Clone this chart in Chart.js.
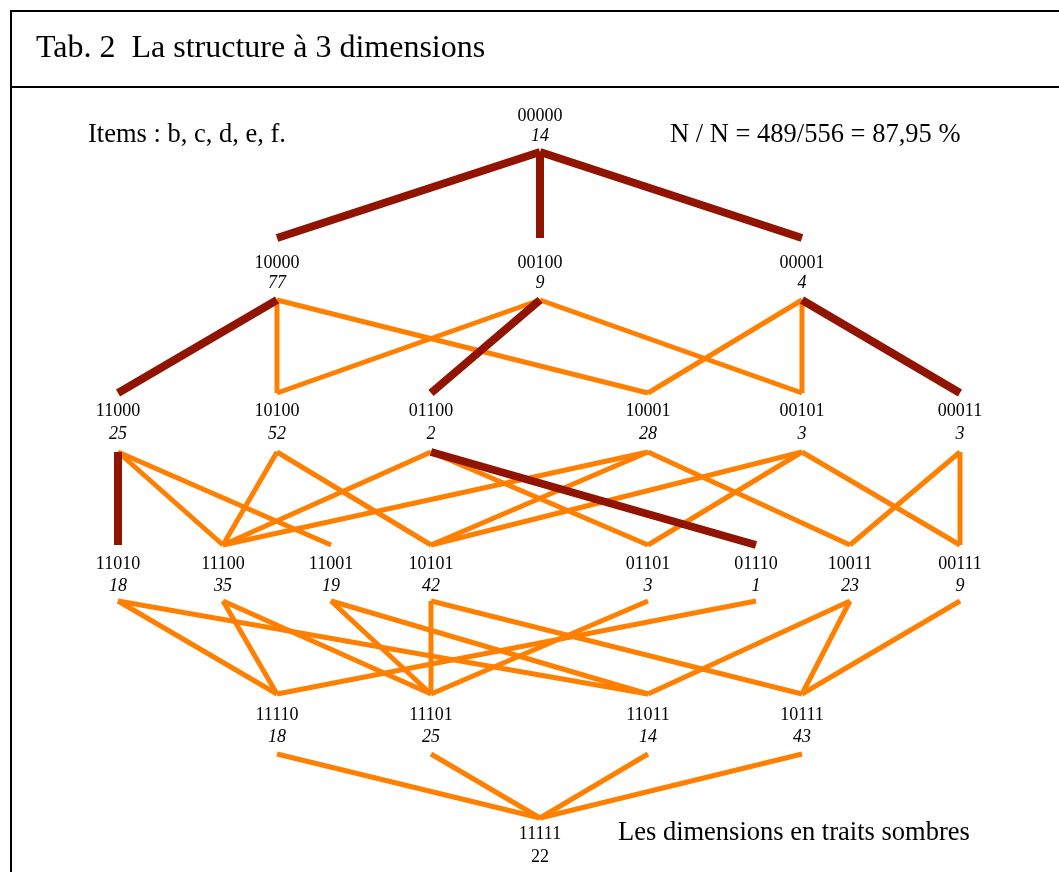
<!DOCTYPE html>
<html>
<head>
<meta charset="utf-8">
<script src="https://cdn.jsdelivr.net/npm/chart.js@4"></script>
<style>
  html, body { margin: 0; padding: 0; background: #fff; }
  #wrap { position: relative; width: 1059px; height: 872px; }
</style>
</head>
<body>
<div id="wrap"><canvas id="lattice" width="1059" height="872"></canvas></div>
<script>
// response patterns per level and their counts
const level0 = ['00000'];
const level1 = ['10000', '00100', '00001'];
const level2 = ['11000', '10100', '01100', '10001', '00101', '00011'];
const level3 = ['11010', '11100', '11001', '10101', '01101', '01110', '10011', '00111'];
const level4 = ['11110', '11101', '11011', '10111'];
const level5 = ['11111'];

const counts0 = [14];
const counts1 = [77, 9, 4];
const counts2 = [25, 52, 2, 28, 3, 3];
const counts3 = [18, 35, 19, 42, 3, 1, 23, 9];
const counts4 = [18, 25, 14, 43];
const counts5 = [22];

// links between levels, dark ones are the dimensions
const darkEdges = [
  ['00000', '10000'], ['00000', '00100'], ['00000', '00001'],
  ['10000', '11000'], ['00100', '01100'], ['00001', '00011'],
  ['11000', '11010'], ['01100', '01110']
];
const lightEdges = [
  ['10000', '10100'], ['10000', '10001'], ['00100', '10100'], ['00100', '00101'],
  ['00001', '10001'], ['00001', '00101'],
  ['11000', '11100'], ['11000', '11001'], ['10100', '11100'], ['10100', '10101'],
  ['01100', '11100'], ['01100', '01101'], ['10001', '11100'], ['10001', '10101'],
  ['10001', '10011'], ['00101', '10101'], ['00101', '01101'], ['00101', '00111'],
  ['00011', '10011'], ['00011', '00111'],
  ['11010', '11110'], ['11010', '11011'], ['11100', '11110'], ['11100', '11101'],
  ['11001', '11101'], ['11001', '11011'], ['10101', '11101'], ['10101', '10111'],
  ['01101', '11101'], ['01110', '11110'], ['10011', '11011'], ['10011', '10111'],
  ['00111', '10111'],
  ['11110', '11111'], ['11101', '11111'], ['11011', '11111'], ['10111', '11111']
];

const levels = [level0, level1, level2, level3, level4, level5];
const levelCounts = [counts0, counts1, counts2, counts3, counts4, counts5];

// layout (page pixels): column of each pattern, rows of each level
const column = {
  '00000': 540, '10000': 277, '00100': 540, '00001': 802,
  '11000': 118, '10100': 277, '01100': 431, '10001': 648, '00101': 802, '00011': 960,
  '11010': 118, '11100': 223, '11001': 331, '10101': 431, '01101': 648, '01110': 756, '10011': 850, '00111': 960,
  '11110': 277, '11101': 431, '11011': 648, '10111': 802,
  '11111': 540
};
const rowTop    = [null, 238, 393, 545, 694, 818];
const rowBottom = [152, 300, 452, 601, 754, null];
const rowCode   = [116, 263, 411, 564, 715, 834];
const rowCount  = [136, 283, 434, 586, 737, 857];

function levelOf(code) {
  return code.split('').filter(c => c === '1').length;
}

function edgeDataset(e, dark) {
  const a = e[0], b = e[1];
  return {
    data: [
      { x: column[a], y: rowBottom[levelOf(a)] },
      { x: column[b], y: rowTop[levelOf(b)] }
    ],
    showLine: true,
    borderColor: dark ? '#911400' : '#ff8000',
    borderWidth: dark ? 8 : 5,
    borderCapStyle: 'butt',
    pointRadius: 0,
    order: dark ? 0 : 1
  };
}

const datasets = darkEdges.map(e => edgeDataset(e, true))
  .concat(lightEdges.map(e => edgeDataset(e, false)));

const SERIF = '"Liberation Serif", "Times New Roman", serif';

const textPlugin = {
  id: 'latticeText',
  beforeDraw(chart) {
    const ctx = chart.ctx;
    ctx.save();
    ctx.fillStyle = '#fff';
    ctx.fillRect(0, 0, chart.width, chart.height);
    ctx.strokeStyle = '#000';
    ctx.lineWidth = 2;
    ctx.beginPath();
    ctx.moveTo(1070, 11); ctx.lineTo(11, 11); ctx.lineTo(11, 880);
    ctx.moveTo(11, 87); ctx.lineTo(1070, 87);
    ctx.stroke();
    ctx.restore();
  },
  afterDatasetsDraw(chart) {
    const ctx = chart.ctx;
    const xs = chart.scales.x, ys = chart.scales.y;
    ctx.save();
    ctx.fillStyle = '#000';
    ctx.textBaseline = 'middle';

    ctx.textAlign = 'left';
    ctx.font = '32px ' + SERIF;
    ctx.fillText('Tab. 2  La structure à 3 dimensions', 36, 49);
    ctx.font = '26.5px ' + SERIF;
    ctx.fillText('Items : b, c, d, e, f.', 88, 135);
    ctx.fillText('N / N = 489/556 = 87,95 %', 670, 135);
    ctx.fillText('Les dimensions en traits sombres', 618, 833);

    ctx.textAlign = 'center';
    levels.forEach((lv, i) => {
      lv.forEach((code, j) => {
        const px = xs.getPixelForValue(column[code]);
        ctx.font = '18px ' + SERIF;
        ctx.fillText(code, px, ys.getPixelForValue(rowCode[i]));
        ctx.font = (i === 5 ? '' : 'italic ') + '18px ' + SERIF;
        ctx.fillText(String(levelCounts[i][j]), px, ys.getPixelForValue(rowCount[i]));
      });
    });
    ctx.restore();
  }
};

new Chart(document.getElementById('lattice'), {
  type: 'scatter',
  data: { datasets: datasets },
  options: {
    responsive: false,
    animation: false,
    layout: { padding: 0 },
    plugins: { legend: { display: false }, tooltip: { enabled: false }, title: { display: false } },
    scales: {
      x: { type: 'linear', min: 0, max: 1059, display: false },
      y: { type: 'linear', min: 0, max: 872, reverse: true, display: false }
    }
  },
  plugins: [textPlugin]
});
</script>
</body>
</html>
